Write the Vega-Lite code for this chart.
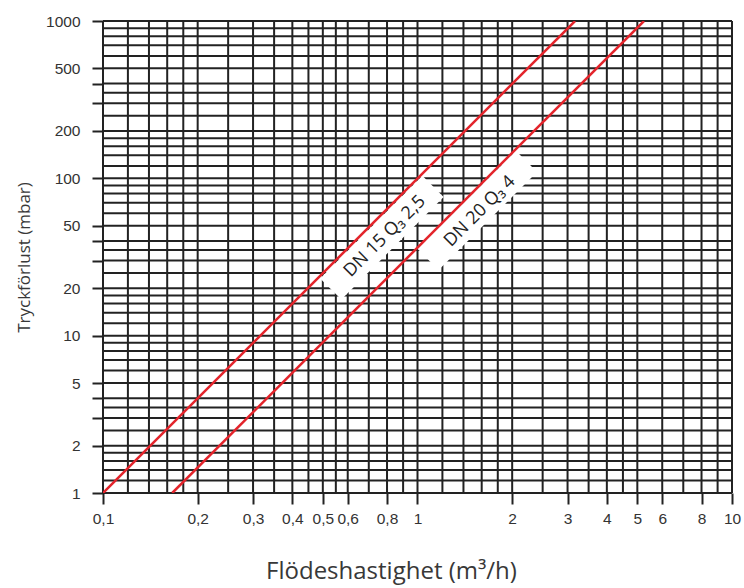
{
  "$schema": "https://vega.github.io/schema/vega-lite/v6.json",
  "width": 629,
  "height": 472,
  "autosize": {"type": "none"},
  "padding": {"left": 103, "top": 21, "right": 12, "bottom": 95},
  "background": "white",
  "config": {
    "view": {"stroke": null},
    "axis": {
      "labelFont": "Liberation Sans",
      "labelFontSize": 15.5,
      "labelColor": "#333333",
      "tickColor": "#222222",
      "tickWidth": 2,
      "tickSize": 11,
      "domain": false,
      "grid": false,
      "titleFont": "Open Sans",
      "titleFontWeight": "normal",
      "titleColor": "#383838"
    }
  },
  "datasets": {
    "vgrid": [
      {"q": 0.1}, {"q": 0.12}, {"q": 0.14}, {"q": 0.16}, {"q": 0.18}, {"q": 0.2},
      {"q": 0.25}, {"q": 0.3}, {"q": 0.35}, {"q": 0.4}, {"q": 0.45}, {"q": 0.5},
      {"q": 0.55}, {"q": 0.6}, {"q": 0.7}, {"q": 0.8}, {"q": 0.9}, {"q": 1},
      {"q": 1.2}, {"q": 1.4}, {"q": 1.6}, {"q": 1.8}, {"q": 2}, {"q": 2.5},
      {"q": 3}, {"q": 3.5}, {"q": 4}, {"q": 4.5}, {"q": 5}, {"q": 6},
      {"q": 7}, {"q": 8}, {"q": 9}, {"q": 10}
    ],
    "hgrid": [
      {"p": 1}, {"p": 1.2}, {"p": 1.4}, {"p": 1.6}, {"p": 1.8}, {"p": 2}, {"p": 2.5},
      {"p": 3}, {"p": 3.5}, {"p": 4}, {"p": 5}, {"p": 6}, {"p": 7}, {"p": 8}, {"p": 9},
      {"p": 10}, {"p": 12}, {"p": 14}, {"p": 16}, {"p": 18}, {"p": 20}, {"p": 25},
      {"p": 30}, {"p": 35}, {"p": 40}, {"p": 50}, {"p": 60}, {"p": 70}, {"p": 80}, {"p": 90},
      {"p": 100}, {"p": 120}, {"p": 140}, {"p": 160}, {"p": 180}, {"p": 200}, {"p": 250},
      {"p": 300}, {"p": 350}, {"p": 400}, {"p": 500}, {"p": 600}, {"p": 700}, {"p": 800}, {"p": 900},
      {"p": 1000}
    ],
    "bands": [
      {"meter": "DN15", "q": 0.53, "p": 19.8},
      {"meter": "DN15", "q": 1.12, "p": 89},
      {"meter": "DN20", "q": 1.08, "p": 30.5},
      {"meter": "DN20", "q": 2.22, "p": 128}
    ],
    "curves": [
      {"meter": "DN15", "q": 0.1, "p": 1},
      {"meter": "DN15", "q": 3.17, "p": 1000},
      {"meter": "DN20", "q": 0.166, "p": 1},
      {"meter": "DN20", "q": 5.25, "p": 1000}
    ],
    "labels": [
      {"text": "DN 15 Q₃ 2,5", "q": 0.788, "p": 42.7},
      {"text": "DN 20 Q₃ 4", "q": 1.58, "p": 61.6}
    ]
  },
  "layer": [
    {
      "data": {"name": "vgrid"},
      "mark": {"type": "rule", "color": "#222222", "strokeWidth": 2},
      "encoding": {
        "x": {
          "field": "q",
          "type": "quantitative",
          "scale": {"type": "log", "domain": [0.1, 10], "nice": false},
          "axis": {
            "values": [0.1, 0.2, 0.3, 0.4, 0.5, 0.6, 0.8, 1, 2, 3, 4, 5, 6, 8, 10],
            "labelExpr": "replace(toString(datum.value), '.', ',')",
            "labelPadding": 7,
            "labelFlush": false,
            "labelOverlap": false,
            "title": "Flödeshastighet (m³/h)",
            "titleFontSize": 24,
            "titleX": 288,
            "titleY": 85,
            "titleAlign": "center",
            "titleBaseline": "alphabetic"
          }
        }
      }
    },
    {
      "data": {"name": "hgrid"},
      "mark": {"type": "rule", "color": "#222222", "strokeWidth": 2},
      "encoding": {
        "y": {
          "field": "p",
          "type": "quantitative",
          "scale": {"type": "log", "domain": [1, 1000], "nice": false},
          "axis": {
            "values": [1, 2, 3, 4, 5, 10, 20, 30, 40, 50, 100, 200, 300, 400, 500, 1000],
            "labelExpr": "indexof([1, 2, 5, 10, 20, 50, 100, 200, 500, 1000], datum.value) >= 0 ? toString(datum.value) : ''",
            "labelPadding": 12,
            "labelFlush": false,
            "labelOverlap": false,
            "title": "Tryckförlust (mbar)",
            "titleFontSize": 17,
            "titlePadding": 12
          }
        }
      }
    },
    {
      "data": {"name": "bands"},
      "mark": {"type": "line", "color": "white", "strokeWidth": 30, "strokeCap": "butt"},
      "encoding": {
        "x": {"field": "q", "type": "quantitative"},
        "y": {"field": "p", "type": "quantitative"},
        "detail": {"field": "meter"}
      }
    },
    {
      "data": {"name": "curves"},
      "mark": {"type": "line", "color": "#e3242b", "strokeWidth": 2.5, "clip": true},
      "encoding": {
        "x": {"field": "q", "type": "quantitative"},
        "y": {"field": "p", "type": "quantitative"},
        "detail": {"field": "meter"}
      }
    },
    {
      "data": {"name": "labels"},
      "mark": {
        "type": "text",
        "angle": -45,
        "align": "center",
        "baseline": "middle",
        "font": "Open Sans",
        "fontSize": 18,
        "color": "#222222"
      },
      "encoding": {
        "x": {"field": "q", "type": "quantitative"},
        "y": {"field": "p", "type": "quantitative"},
        "text": {"field": "text"}
      }
    }
  ]
}
